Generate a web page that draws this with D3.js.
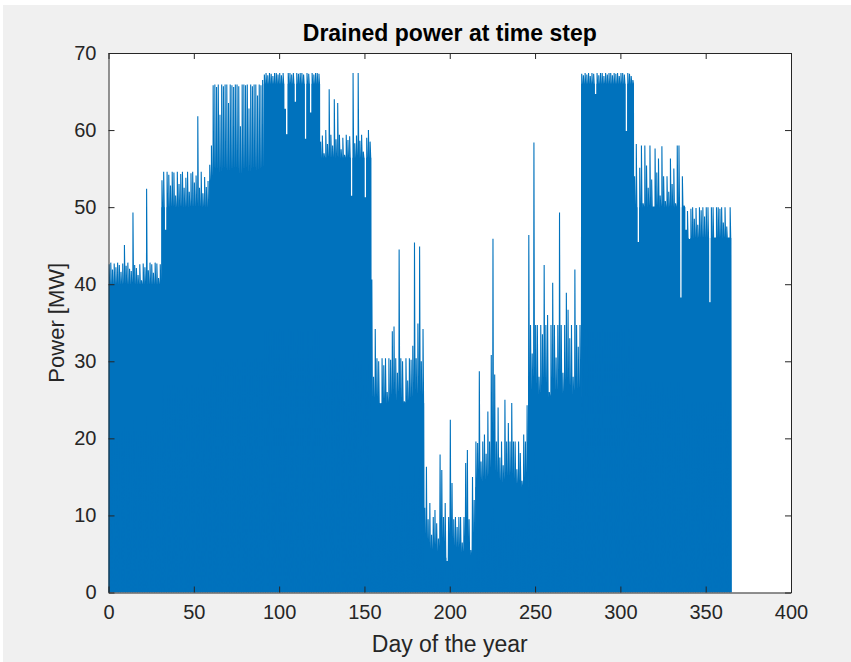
<!DOCTYPE html>
<html>
<head>
<meta charset="utf-8">
<script src="https://cdn.jsdelivr.net/npm/d3@7"></script>
<style>
  html, body { margin: 0; padding: 0; background: #ffffff; }
  svg { display: block; }
  text { font-family: "Liberation Sans", Arial, Helvetica, sans-serif; }
</style>
</head>
<body>
<svg id="chart" width="851" height="662"></svg>
<script>
// ---- Data ----
const chartTitle = "Drained power at time step";
const xLabel = "Day of the year";
const yLabel = "Power [MW]";
const xTicks = [0, 50, 100, 150, 200, 250, 300, 350, 400];
const yTicks = [0, 10, 20, 30, 40, 50, 60, 70];

// first day of each block and the level the power drops back to inside each day
const segStart = [0, 31, 59, 91, 124, 154, 185, 215, 246, 277, 308, 339];
const segBase  = [40, 50, 53.5, 66, 56.4, 24.6, 4.5, 13.7, 25.4, 66, 50, 46];

// daily peak power [MW], days 0..364
const dailyPeak = [
  // days 0-30
  42.6, 42.8, 41.9, 42.7, 42.2, 42.8, 42.5, 41.6, 42.7, 45.1, 42.4, 42.8, 42.0, 41.7, 49.3, 42.5,
  42.1, 41.2, 42.6, 40.5, 42.7, 42.2, 52.4, 41.8, 42.8, 42.6, 41.5, 42.8, 42.7, 40.8, 42.6,
  // days 31-58
  53.5, 54.6, 47.0, 54.6, 54.2, 52.8, 54.6, 54.5, 51.5, 54.6, 53.0, 54.3, 54.6, 52.5, 53.8, 54.6,
  52.0, 54.4, 54.6, 53.2, 54.1, 61.8, 52.5, 54.6, 51.8, 53.9, 52.6, 53.4,
  // days 59-90
  55.5, 58.0, 65.8, 65.9, 65.6, 65.9, 62.0, 65.9, 65.7, 65.9, 65.9, 63.5, 65.9, 65.8, 65.6, 65.9,
  65.9, 65.7, 60.5, 65.9, 65.9, 65.8, 65.9, 62.8, 65.9, 65.7, 65.9, 65.9, 64.5, 65.9, 65.8, 66.5,
  // days 91-123
  67.2, 67.4, 67.1, 67.4, 67.3, 67.0, 67.4, 67.4, 67.2, 67.4, 67.1, 67.4, 62.7, 59.4, 67.4, 67.4,
  67.2, 67.4, 63.6, 67.4, 67.3, 67.4, 67.4, 67.2, 58.8, 67.4, 67.3, 62.2, 67.4, 67.2, 67.4, 67.4, 67.3,
  // days 124-153
  58.5, 59.3, 57.0, 60.0, 58.2, 65.3, 59.4, 58.0, 64.0, 58.8, 63.5, 59.4, 57.5, 59.0, 56.8, 59.4,
  58.7, 59.2, 51.4, 67.4, 58.3, 59.3, 67.4, 58.6, 59.4, 57.2, 51.2, 59.0, 60.0, 58.5,
  // days 154-184
  40.6, 28.0, 34.2, 30.4, 30.0, 24.5, 30.4, 29.5, 30.4, 26.0, 30.4, 30.2, 33.9, 34.5, 30.4, 28.5,
  44.5, 30.4, 30.0, 24.8, 30.4, 27.5, 30.4, 30.2, 32.0, 45.4, 30.4, 34.9, 44.9, 30.0, 34.2,
  // days 185-214
  11.0, 16.3, 9.5, 11.6, 7.5, 9.8, 10.7, 9.0, 7.0, 17.9, 15.9, 9.8, 11.6, 4.0, 9.8, 22.4,
  14.2, 9.5, 9.8, 8.5, 9.8, 9.8, 6.5, 9.8, 16.8, 18.5, 9.5, 5.5, 15.0, 12.0,
  // days 215-245
  19.6, 19.4, 28.7, 17.0, 19.6, 20.5, 18.0, 23.5, 19.6, 30.8, 45.9, 28.3, 19.6, 24.0, 17.5, 19.6,
  16.5, 25.0, 19.6, 22.0, 19.6, 24.6, 19.6, 19.6, 16.0, 19.6, 18.1, 14.5, 20.5, 19.6, 24.3,
  // days 246-276
  46.4, 34.7, 31.0, 58.4, 34.7, 34.7, 28.0, 34.7, 33.5, 42.5, 34.7, 36.0, 26.0, 34.7, 40.2, 34.7,
  30.5, 34.7, 49.3, 34.7, 28.5, 34.7, 38.9, 36.7, 33.0, 34.7, 28.0, 41.9, 34.7, 31.9, 34.7,
  // days 277-307
  67.3, 67.1, 67.4, 67.2, 67.4, 67.0, 67.4, 67.3, 64.6, 67.4, 67.1, 67.4, 67.4, 67.0, 67.4, 67.2,
  67.4, 67.4, 67.1, 67.4, 67.3, 67.4, 67.0, 67.4, 67.4, 67.2, 59.8, 67.4, 67.3, 67.0, 66.5,
  // days 308-338
  54.0, 58.2, 45.4, 55.1, 58.0, 50.5, 58.0, 55.4, 52.5, 58.0, 53.6, 50.0, 57.6, 54.5, 56.3, 51.5,
  57.9, 54.0, 50.8, 54.0, 52.0, 56.3, 53.0, 55.0, 50.5, 58.0, 58.0, 38.2, 54.0, 50.2, 47.0,
  // days 339-364
  49.5, 45.8, 49.8, 50.0, 48.5, 49.9, 47.7, 50.0, 49.6, 50.0, 48.8, 50.0, 50.0, 37.6, 50.0, 50.0,
  46.0, 50.0, 50.0, 49.8, 50.0, 48.0, 50.0, 47.5, 46.0, 50.0
];

// ---- Drawing ----
const W = 851, H = 662;
const L = 108.5, R = 791, T = 53, B = 592.5;
const svg = d3.select("#chart");

svg.append("rect").attr("x", 3).attr("y", 5).attr("width", W - 3).attr("height", H - 5)
  .attr("fill", "#f0f0f0");
svg.append("rect").attr("x", L).attr("y", T).attr("width", R - L).attr("height", B - T)
  .attr("fill", "#ffffff");

const x = d3.scaleLinear().domain([0, 400]).range([L, R]);
const y = d3.scaleLinear().domain([0, 70]).range([B, T]);

svg.append("clipPath").attr("id", "clip")
  .append("rect").attr("x", L).attr("y", T).attr("width", R - L).attr("height", B - T);

function baseFor(day) {
  let k = 0;
  for (let s = 0; s < segStart.length; s++) if (day >= segStart[s]) k = s;
  return segBase[k];
}
const days = dailyPeak.map((p, i) => ({ day: i, peak: p, base: Math.min(baseFor(i), p) }));

const pts = [];
days.forEach(d => {
  pts.push([d.day, 0], [d.day + 1 / 3, d.peak], [d.day + 2 / 3, d.base]);
});
pts.push([dailyPeak.length, 0]);

const plot = svg.append("g").attr("clip-path", "url(#clip)");

// solid band under the daily low-level (dense part of the signal)
const stepData = days.concat([{ day: dailyPeak.length, peak: 0, base: days[days.length - 1].base }]);
plot.append("path")
  .attr("d", d3.area().curve(d3.curveStepAfter)
    .x(d => x(d.day)).y0(y(0)).y1(d => y(d.base))(stepData))
  .attr("fill", "#0072bd");

plot.append("path")
  .attr("d", d3.line().x(d => x(d[0])).y(d => y(d[1]))(pts))
  .attr("fill", "none")
  .attr("stroke", "#0072bd")
  .attr("stroke-width", 1.1)
  .attr("stroke-linejoin", "miter");

const axisColor = "#262626";
const tickLen = 6;

const gx = svg.append("g").attr("transform", `translate(0,${B})`)
  .call(d3.axisBottom(x).tickValues(xTicks).tickSizeInner(-tickLen).tickSizeOuter(0).tickPadding(12));
const gxt = svg.append("g").attr("transform", `translate(0,${T})`)
  .call(d3.axisTop(x).tickValues(xTicks).tickSizeInner(-tickLen).tickSizeOuter(0).tickFormat(""));
const gy = svg.append("g").attr("transform", `translate(${L},0)`)
  .call(d3.axisLeft(y).tickValues(yTicks).tickSizeInner(-tickLen).tickSizeOuter(0).tickPadding(12));
const gyr = svg.append("g").attr("transform", `translate(${R},0)`)
  .call(d3.axisRight(y).tickValues(yTicks).tickSizeInner(-tickLen).tickSizeOuter(0).tickFormat(""));

[gx, gxt, gy, gyr].forEach(g => {
  g.selectAll(".domain").attr("stroke", axisColor).attr("stroke-width", 1);
  g.selectAll(".tick line").attr("stroke", axisColor).attr("stroke-width", 1);
  g.selectAll(".tick text").attr("fill", "#262626").attr("font-size", 20)
    .attr("font-family", "'Liberation Sans', Arial, sans-serif");
});
gx.selectAll(".tick text").attr("dy", "0.71em");

svg.append("text").attr("x", (L + R) / 2).attr("y", 41)
  .attr("text-anchor", "middle").attr("font-size", 23).attr("font-weight", "bold")
  .attr("fill", "#000").text(chartTitle);

svg.append("text").attr("x", (L + R) / 2).attr("y", 652)
  .attr("text-anchor", "middle").attr("font-size", 23).attr("fill", "#262626").text(xLabel);

svg.append("text").attr("transform", `translate(64,${(T + B) / 2}) rotate(-90)`)
  .attr("text-anchor", "middle").attr("font-size", 22).attr("fill", "#262626").text(yLabel);
</script>
</body>
</html>
